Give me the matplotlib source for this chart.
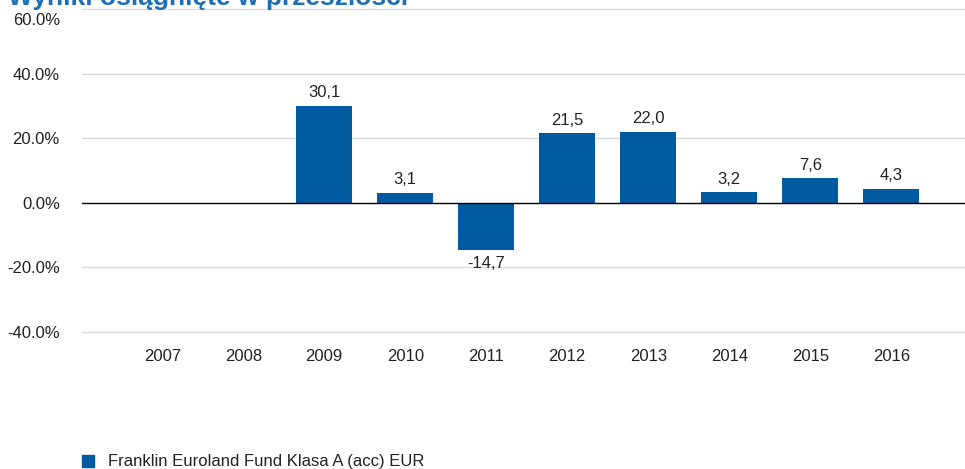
import matplotlib
matplotlib.use("Agg")
import matplotlib.pyplot as plt
import matplotlib.transforms as mtransforms
from matplotlib.patches import Rectangle

plt.rcParams['font.family'] = ['Liberation Sans', 'DejaVu Sans']

years = ["2007", "2008", "2009", "2010", "2011", "2012", "2013", "2014", "2015", "2016"]
returns = [None, None, 30.1, 3.1, -14.7, 21.5, 22.0, 3.2, 7.6, 4.3]
yticks = [-40, -20, 0, 20, 40, 60]
series_name = "Franklin Euroland Fund Klasa A (acc) EUR"
title = "Wyniki osiągnięte w przeszłości"

BAR = "#005A9F"
TITLE_BLUE = "#1E6FB4"

fig = plt.figure(figsize=(9.65, 4.69), dpi=100)
ax = fig.add_axes([82 / 965, 1 - 332 / 469, (965 - 82) / 965, (332 - 9) / 469])

xs = [i for i, v in enumerate(returns) if v is not None]
vals = [v for v in returns if v is not None]
ax.bar(xs, vals, width=0.69, color=BAR, zorder=3)

for x, v in zip(xs, vals):
    lab = ("%.1f" % v).replace(".", ",")
    if v >= 0:
        ax.annotate(lab, (x, v), xytext=(0, 4), textcoords="offset points",
                    ha="center", va="bottom", fontsize=12, color="#222222")
    else:
        ax.annotate(lab, (x, v), xytext=(0, -4), textcoords="offset points",
                    ha="center", va="top", fontsize=12, color="#222222")

ax.set_xlim(-0.99, 9.91)
ax.set_ylim(-40, 60)
ax.set_yticks(yticks)
ax.set_yticklabels(["%.1f%%" % t for t in yticks], fontsize=12, color="#222222")
ax.set_xticks(range(len(years)))
ax.set_xticklabels(years, fontsize=12, color="#222222")
ax.tick_params(axis="y", length=0, pad=16)
ax.tick_params(axis="x", length=0, pad=12)
top_lbl = ax.get_yticklabels()[-1]
top_lbl.set_transform(top_lbl.get_transform() +
                      mtransforms.ScaledTranslation(0, -10 / 100, fig.dpi_scale_trans))

for t in yticks:
    if t != 0:
        ax.axhline(t, color="#d9d9d9", lw=1.0, zorder=1, clip_on=False)
ax.axhline(0, color="black", lw=1.0, zorder=4)
for s in ax.spines.values():
    s.set_visible(False)

fig.text(8 / 965, 1 - 5 / 469, title, fontsize=19, fontweight="bold",
         color=TITLE_BLUE, ha="left", va="baseline")

fig.patches.append(Rectangle((82 / 965, 1 - 467 / 469), 12 / 965, 12 / 469,
                             transform=fig.transFigure, color=BAR))
fig.text(108 / 965, 1 - 461 / 469, series_name, fontsize=12, color="#222222",
         ha="left", va="center")

fig.savefig("out.png", dpi=100)
